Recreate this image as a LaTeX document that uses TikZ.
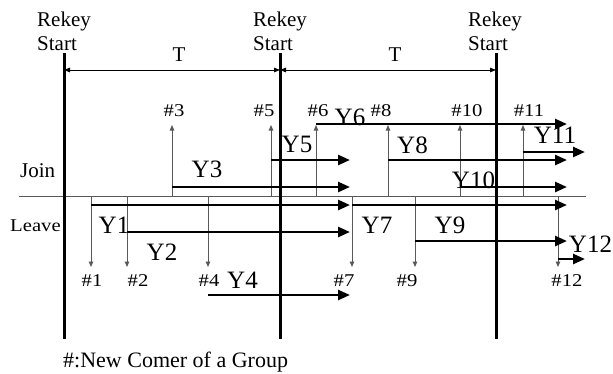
\documentclass[tikz,border=0pt]{standalone}
\usepackage{fontspec}
\setmainfont{Liberation Serif}
\newfontfamily\widefont[FakeStretch=1.15]{Liberation Serif}
\usetikzlibrary{arrows.meta}
\begin{document}
\begin{tikzpicture}[x=1pt,y=-1pt,
  rekey/.style={line width=3pt,black},
  yarrow/.style={line width=2.5pt,-{Triangle[length=12pt,width=10pt]}},
  thinarrow/.style={line width=0.9pt,draw=gray!70!black,fill=gray!70!black,-{Triangle[length=5.5pt,width=4.5pt]}},
  tarrow/.style={line width=0.8pt,{Triangle[length=6pt,width=4.5pt]}-{Triangle[length=6pt,width=4.5pt]}},
  ylab/.style={font=\fontsize{25}{25}\selectfont,inner sep=0pt,anchor=base},
  hlab/.style={font=\fontsize{18}{18}\widefont,inner sep=0pt,anchor=base},
  txt/.style={font=\fontsize{21}{21}\selectfont,inner sep=0pt,anchor=base west}]
\useasboundingbox (0,0) rectangle (613,373);

% Rekey labels and lines
\foreach \i/\x/\lx in {1/64/37,2/280/253,3/496/468}{
  \node[txt] (rk\i) at (\lx,26) {Rekey};
  \node[txt] (st\i) at (\lx,50) {Start};
  \coordinate (v\i t) at (\x,53);
  \coordinate (v\i b) at (\x,339);
  \coordinate (v\i m) at (\x,70);
}

% T arrows
\draw[tarrow] (v1m) -- (v2m);
\draw[tarrow] (v2m) -- (v3m);
\node[font=\fontsize{21}{21}\selectfont,inner sep=0pt,anchor=base] (T1) at (179,61) {T};
\node[font=\fontsize{21}{21}\selectfont,inner sep=0pt,anchor=base] (T2) at (395,61) {T};

% Join / Leave axis
\coordinate (axl) at (19,196);
\coordinate (axr) at (586,196);
\draw[line width=0.9pt,gray!70!black] (axl) -- (axr);
\node[txt] (join) at (20,177) {Join};
\node[hlab,anchor=base west] (leave) at (10,231) {Leave};

% Join arrows (up)
\foreach \n/\x/\lx in {3/172/174,5/271/264,6/316/318,8/388/381,10/460/467,11/523/529}{
  \coordinate (jb\n) at (\x,196);
  \coordinate (jt\n) at (\x,125);
  \draw[thinarrow] (jb\n) -- (jt\n);
  \node[hlab] (jl\n) at (\lx,116) {\#\n};
}

% Leave arrows (down)
\foreach \n/\x/\lx in {1/91/92,2/127/138,4/208/209,7/352/344,9/415/407,12/558/567}{
  \coordinate (lt\n) at (\x,196);
  \coordinate (lb\n) at (\x,267);
  \draw[thinarrow] (lt\n) -- (lb\n);
  \node[hlab] (ll\n) at (\lx,286) {\#\n};
}

% Y arrows
\foreach \n/\xa/\xb/\y in {1/91/350/205,2/127/350/232,3/172/350/187,4/208/350/295,
  5/271/350/160,6/316/567/124,7/352/567/205,8/388/567/160,9/415/567/241,
  10/460/567/187,11/523/585/152,12/558/585/259}{
  \coordinate (ys\n) at (\xa,\y);
  \coordinate (ye\n) at (\xb,\y);
  \draw[yarrow] (ys\n) -- (ye\n);
}

% Y labels
\foreach \n/\x/\y in {1/114/233,2/162/260,3/207/177,4/242.5/288,5/297/152,6/350/125,
  7/377/233,8/412.5/153,9/450/233,10/473.5/188,11/555/143,12/590.5/252}{
  \node[ylab] (yl\n) at (\x,\y) {Y\n};
}

% Rekey vertical lines
\foreach \i in {1,2,3}{
  \draw[rekey] (v\i t) -- (v\i b);
}

% caption
\node[font=\fontsize{22}{22}\selectfont,inner sep=0pt,anchor=base west] (cap) at (63,367) {\#:New Comer of a Group};
\end{tikzpicture}
\end{document}
